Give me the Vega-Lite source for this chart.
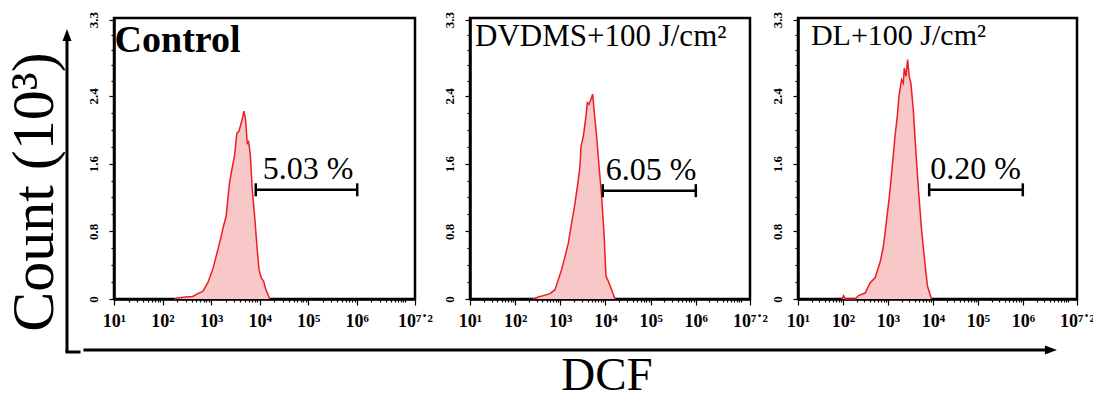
{
  "$schema": "https://vega.github.io/schema/vega-lite/v6.json",
  "background": "white",
  "padding": {"left": 4, "top": 10, "right": 5, "bottom": 0},
  "config": {
    "view": {"stroke": "black", "strokeWidth": 2.5},
    "font": "Liberation Serif",
    "axis": {"grid": false}
  },
  "datasets": {
    "control": [
      {"dcf": 174, "count": 0}, {"dcf": 221, "count": 0.016}, {"dcf": 304, "count": 0.024}, {"dcf": 418, "count": 0.03},
      {"dcf": 530, "count": 0.063}, {"dcf": 673, "count": 0.09}, {"dcf": 853, "count": 0.19}, {"dcf": 1082, "count": 0.35},
      {"dcf": 1374, "count": 0.58}, {"dcf": 1611, "count": 0.74}, {"dcf": 1799, "count": 0.86}, {"dcf": 2042, "count": 0.98},
      {"dcf": 2393, "count": 1.37}, {"dcf": 2677, "count": 1.53}, {"dcf": 3040, "count": 1.69}, {"dcf": 3398, "count": 1.96},
      {"dcf": 3735, "count": 1.98}, {"dcf": 4176, "count": 2.08}, {"dcf": 4446, "count": 2.14}, {"dcf": 4742, "count": 2.22},
      {"dcf": 5128, "count": 2.12}, {"dcf": 5558, "count": 1.84}, {"dcf": 5918, "count": 1.86}, {"dcf": 6409, "count": 1.71},
      {"dcf": 7050, "count": 1.29}, {"dcf": 7880, "count": 0.98}, {"dcf": 8810, "count": 0.62}, {"dcf": 9690, "count": 0.35},
      {"dcf": 10820, "count": 0.25}, {"dcf": 12100, "count": 0.21}, {"dcf": 13100, "count": 0.13}, {"dcf": 14400, "count": 0.07},
      {"dcf": 16100, "count": 0}
    ],
    "dvdms": [
      {"dcf": 252, "count": 0}, {"dcf": 326, "count": 0.024}, {"dcf": 421, "count": 0.04}, {"dcf": 591, "count": 0.063},
      {"dcf": 762, "count": 0.11}, {"dcf": 903, "count": 0.23}, {"dcf": 1071, "count": 0.35}, {"dcf": 1269, "count": 0.5},
      {"dcf": 1503, "count": 0.66}, {"dcf": 1782, "count": 0.9}, {"dcf": 2113, "count": 1.13}, {"dcf": 2505, "count": 1.41},
      {"dcf": 2725, "count": 1.57}, {"dcf": 2869, "count": 1.8}, {"dcf": 3230, "count": 1.92}, {"dcf": 3700, "count": 2.16},
      {"dcf": 3963, "count": 2.32}, {"dcf": 4313, "count": 2.3}, {"dcf": 4778, "count": 2.36}, {"dcf": 5200, "count": 2.42},
      {"dcf": 5662, "count": 2.2}, {"dcf": 6371, "count": 1.92}, {"dcf": 7300, "count": 1.53}, {"dcf": 8220, "count": 1.21},
      {"dcf": 9266, "count": 0.78}, {"dcf": 10260, "count": 0.27}, {"dcf": 11560, "count": 0.21}, {"dcf": 13700, "count": 0.11},
      {"dcf": 16230, "count": 0}
    ],
    "dl": [
      {"dcf": 94, "count": 0}, {"dcf": 103, "count": 0.04}, {"dcf": 112, "count": 0}, {"dcf": 186, "count": 0},
      {"dcf": 220, "count": 0.04}, {"dcf": 310, "count": 0.07}, {"dcf": 399, "count": 0.19}, {"dcf": 515, "count": 0.25},
      {"dcf": 665, "count": 0.43}, {"dcf": 789, "count": 0.62}, {"dcf": 934, "count": 0.94}, {"dcf": 1071, "count": 1.21},
      {"dcf": 1206, "count": 1.49}, {"dcf": 1429, "count": 1.92}, {"dcf": 1610, "count": 2.16}, {"dcf": 1753, "count": 2.4},
      {"dcf": 2009, "count": 2.59}, {"dcf": 2188, "count": 2.55}, {"dcf": 2301, "count": 2.73}, {"dcf": 2506, "count": 2.63},
      {"dcf": 2725, "count": 2.83}, {"dcf": 2967, "count": 2.63}, {"dcf": 3230, "count": 2.55}, {"dcf": 3639, "count": 2.24},
      {"dcf": 4100, "count": 1.8}, {"dcf": 4697, "count": 1.33}, {"dcf": 5563, "count": 0.82}, {"dcf": 6594, "count": 0.43},
      {"dcf": 7552, "count": 0.15}, {"dcf": 9268, "count": 0}
    ],
    "gates": [
      {"panel": "Control", "label": "Control", "lo": 8318, "hi": 1023000, "y": 1.29, "pct": "5.03 %"},
      {"panel": "DVDMS", "label": "DVDMS+100 J/cm²", "lo": 8710, "hi": 1000000, "y": 1.28, "pct": "6.05 %"},
      {"panel": "DL", "label": "DL+100 J/cm²", "lo": 8222, "hi": 990000, "y": 1.29, "pct": "0.20 %"}
    ]
  },
  "spacing": 0,
  "hconcat": [
    {
      "width": 69, "height": 334,
      "view": {"stroke": null},
      "data": {"values": [{}]},
      "layer": [
        {"mark": {"type": "rule", "strokeWidth": 3, "color": "black"},
         "encoding": {"x": {"datum": 0.826, "type": "quantitative", "scale": {"domain": [0, 1]}, "axis": null},
                      "y": {"datum": 0, "type": "quantitative", "scale": {"domain": [0, 1]}, "axis": null},
                      "y2": {"datum": 0.949}}},
        {"mark": {"type": "rule", "strokeWidth": 3, "color": "black", "strokeCap": "square"},
         "encoding": {"x": {"datum": 0.826, "type": "quantitative"}, "x2": {"datum": 1}, "y": {"datum": 0, "type": "quantitative"}}},
        {"mark": {"type": "point", "shape": "M0,-1L0.75,1L-0.75,1Z", "filled": true, "size": 144, "color": "black", "opacity": 1},
         "encoding": {"x": {"datum": 0.826, "type": "quantitative"}, "y": {"datum": 0.949, "type": "quantitative"}}},
        {"mark": {"type": "text", "angle": 270, "align": "center", "baseline": "alphabetic", "font": "Liberation Serif", "fontSize": 60, "color": "black"},
         "encoding": {"x": {"datum": 0.623, "type": "quantitative"}, "y": {"datum": 0.479, "type": "quantitative"}, "text": {"value": "Count (10³)"}}}
      ]
    },
    {
      "spacing": 13,
      "vconcat": [
        {
          "spacing": 7,
          "hconcat": [
            {
              "width": 301, "height": 281,
              "layer": [
                {"data": {"name": "control"},
                 "mark": {"type": "area", "fill": "#f8c8c8", "fillOpacity": 1, "line": {"stroke": "#ee1c24", "strokeWidth": 1.5}},
                 "encoding": {
                   "x": {"field": "dcf", "type": "quantitative", "scale": {"type": "log", "domain": [10, 15848932], "nice": false},
                         "axis": {"title": null, "tickCount": 500, "values": [10,20,30,40,50,60,70,80,90,100,200,300,400,500,600,700,800,900,1000,2000,3000,4000,5000,6000,7000,8000,9000,10000,20000,30000,40000,50000,60000,70000,80000,90000,100000,200000,300000,400000,500000,600000,700000,800000,900000,1000000,2000000,3000000,4000000,5000000,6000000,7000000,8000000,9000000,10000000,15848932],
                                  "labelExpr": "datum.value > 1.1e7 ? '10⁷˙²' : ((datum.value < 2e6 && abs(log(datum.value)/LN10 - round(log(datum.value)/LN10)) < 0.001) ? '10' + substring('⁰¹²³⁴⁵⁶⁷', round(log(datum.value)/LN10), round(log(datum.value)/LN10) + 1) : '')",
                                  "labelFont": "Liberation Serif", "labelFontSize": 18, "labelFontWeight": "bold", "labelColor": "black", "labelPadding": 7, "labelFlush": false, "labelOverlap": false, "labelBound": false,
                                  "tickColor": "black", "tickWidth": 1.2,
                                  "tickSize": {"condition": {"test": "datum.value > 1.1e7 || (datum.value < 2e6 && abs(log(datum.value)/LN10 - round(log(datum.value)/LN10)) < 0.001)", "value": 6}, "value": 3},
                                  "domainColor": "black", "domainWidth": 2.5}},
                   "y": {"field": "count", "type": "quantitative", "scale": {"domain": [0, 3.32], "nice": false},
                         "axis": {"title": null, "tickCount": 500, "values": [0,0.2,0.4,0.6,0.8,1,1.2,1.4,1.6,1.8,2,2.2,2.4,2.58,2.76,2.94,3.12,3.3],
                                  "labelExpr": "(datum.value == 0 || datum.value == 0.8 || datum.value == 1.6 || datum.value == 2.4 || datum.value > 3.25) ? (datum.value == 0 ? '0' : format(datum.value, '.1f')) : ''",
                                  "labelAngle": 270, "labelAlign": "center", "labelBaseline": "bottom",
                                  "labelFont": "Liberation Serif", "labelFontSize": 13, "labelFontWeight": "bold", "labelColor": "black", "labelPadding": 9, "labelOverlap": false, "labelBound": false,
                                  "tickColor": "black", "tickWidth": 1.2,
                                  "tickSize": {"condition": {"test": "datum.value == 0 || datum.value == 0.8 || datum.value == 1.6 || datum.value == 2.4 || datum.value > 3.25", "value": 5}, "value": 3},
                                  "domainColor": "black", "domainWidth": 2.5}}
                 }},
                {"data": {"name": "gates"}, "transform": [{"filter": "datum.panel == 'Control'"}],
                 "mark": {"type": "rule", "strokeWidth": 2.5, "color": "black"},
                 "encoding": {"x": {"field": "lo", "type": "quantitative"}, "x2": {"field": "hi"}, "y": {"field": "y", "type": "quantitative"}}},
                {"data": {"name": "gates"}, "transform": [{"filter": "datum.panel == 'Control'"}],
                 "mark": {"type": "tick", "orient": "vertical", "size": 13, "thickness": 2.5, "color": "black", "opacity": 1},
                 "encoding": {"x": {"field": "lo", "type": "quantitative"}, "y": {"field": "y", "type": "quantitative"}}},
                {"data": {"name": "gates"}, "transform": [{"filter": "datum.panel == 'Control'"}],
                 "mark": {"type": "tick", "orient": "vertical", "size": 13, "thickness": 2.5, "color": "black", "opacity": 1},
                 "encoding": {"x": {"field": "hi", "type": "quantitative"}, "y": {"field": "y", "type": "quantitative"}}},
                {"data": {"name": "gates"}, "transform": [{"filter": "datum.panel == 'Control'"}],
                 "mark": {"type": "text", "align": "left", "baseline": "alphabetic", "dx": 7, "dy": -11, "font": "Liberation Serif", "fontSize": 32, "color": "black"},
                 "encoding": {"x": {"field": "lo", "type": "quantitative"}, "y": {"field": "y", "type": "quantitative"}, "text": {"field": "pct"}}},
                {"data": {"name": "gates"}, "transform": [{"filter": "datum.panel == 'Control'"}],
                 "mark": {"type": "text", "align": "left", "baseline": "alphabetic", "font": "Liberation Serif", "fontSize": 38, "fontWeight": "bold", "color": "black"},
                 "encoding": {"x": {"datum": 10.3, "type": "quantitative"}, "y": {"datum": 2.92, "type": "quantitative"}, "text": {"field": "label"}}}
              ]
            },
            {
              "spacing": 0,
              "hconcat": [
                {
                  "width": 280, "height": 281,
                  "layer": [
                    {"data": {"name": "dvdms"},
                     "mark": {"type": "area", "fill": "#f8c8c8", "fillOpacity": 1, "line": {"stroke": "#ee1c24", "strokeWidth": 1.5}},
                     "encoding": {
                       "x": {"field": "dcf", "type": "quantitative", "scale": {"type": "log", "domain": [10, 15848932], "nice": false},
                             "axis": {"title": null, "tickCount": 500, "values": [10,20,30,40,50,60,70,80,90,100,200,300,400,500,600,700,800,900,1000,2000,3000,4000,5000,6000,7000,8000,9000,10000,20000,30000,40000,50000,60000,70000,80000,90000,100000,200000,300000,400000,500000,600000,700000,800000,900000,1000000,2000000,3000000,4000000,5000000,6000000,7000000,8000000,9000000,10000000,15848932],
                                      "labelExpr": "datum.value > 1.1e7 ? '10⁷˙²' : ((datum.value < 2e6 && abs(log(datum.value)/LN10 - round(log(datum.value)/LN10)) < 0.001) ? '10' + substring('⁰¹²³⁴⁵⁶⁷', round(log(datum.value)/LN10), round(log(datum.value)/LN10) + 1) : '')",
                                      "labelFont": "Liberation Serif", "labelFontSize": 18, "labelFontWeight": "bold", "labelColor": "black", "labelPadding": 7, "labelFlush": false, "labelOverlap": false, "labelBound": false,
                                      "tickColor": "black", "tickWidth": 1.2,
                                      "tickSize": {"condition": {"test": "datum.value > 1.1e7 || (datum.value < 2e6 && abs(log(datum.value)/LN10 - round(log(datum.value)/LN10)) < 0.001)", "value": 6}, "value": 3},
                                      "domainColor": "black", "domainWidth": 2.5}},
                       "y": {"field": "count", "type": "quantitative", "scale": {"domain": [0, 3.32], "nice": false},
                             "axis": {"title": null, "tickCount": 500, "values": [0,0.2,0.4,0.6,0.8,1,1.2,1.4,1.6,1.8,2,2.2,2.4,2.58,2.76,2.94,3.12,3.3],
                                      "labelExpr": "(datum.value == 0 || datum.value == 0.8 || datum.value == 1.6 || datum.value == 2.4 || datum.value > 3.25) ? (datum.value == 0 ? '0' : format(datum.value, '.1f')) : ''",
                                      "labelAngle": 270, "labelAlign": "center", "labelBaseline": "bottom",
                                      "labelFont": "Liberation Serif", "labelFontSize": 13, "labelFontWeight": "bold", "labelColor": "black", "labelPadding": 9, "labelOverlap": false, "labelBound": false,
                                      "tickColor": "black", "tickWidth": 1.2,
                                      "tickSize": {"condition": {"test": "datum.value == 0 || datum.value == 0.8 || datum.value == 1.6 || datum.value == 2.4 || datum.value > 3.25", "value": 5}, "value": 3},
                                      "domainColor": "black", "domainWidth": 2.5}}
                     }},
                    {"data": {"name": "gates"}, "transform": [{"filter": "datum.panel == 'DVDMS'"}],
                     "mark": {"type": "rule", "strokeWidth": 2.5, "color": "black"},
                     "encoding": {"x": {"field": "lo", "type": "quantitative"}, "x2": {"field": "hi"}, "y": {"field": "y", "type": "quantitative"}}},
                    {"data": {"name": "gates"}, "transform": [{"filter": "datum.panel == 'DVDMS'"}],
                     "mark": {"type": "tick", "orient": "vertical", "size": 13, "thickness": 2.5, "color": "black", "opacity": 1},
                     "encoding": {"x": {"field": "lo", "type": "quantitative"}, "y": {"field": "y", "type": "quantitative"}}},
                    {"data": {"name": "gates"}, "transform": [{"filter": "datum.panel == 'DVDMS'"}],
                     "mark": {"type": "tick", "orient": "vertical", "size": 13, "thickness": 2.5, "color": "black", "opacity": 1},
                     "encoding": {"x": {"field": "hi", "type": "quantitative"}, "y": {"field": "y", "type": "quantitative"}}},
                    {"data": {"name": "gates"}, "transform": [{"filter": "datum.panel == 'DVDMS'"}],
                     "mark": {"type": "text", "align": "left", "baseline": "alphabetic", "dx": 3, "dy": -11, "font": "Liberation Serif", "fontSize": 32, "color": "black"},
                     "encoding": {"x": {"field": "lo", "type": "quantitative"}, "y": {"field": "y", "type": "quantitative"}, "text": {"field": "pct"}}},
                    {"data": {"name": "gates"}, "transform": [{"filter": "datum.panel == 'DVDMS'"}],
                     "mark": {"type": "text", "align": "left", "baseline": "alphabetic", "font": "Liberation Serif", "fontSize": 31, "color": "black"},
                     "encoding": {"x": {"datum": 12.9, "type": "quantitative"}, "y": {"datum": 2.99, "type": "quantitative"}, "text": {"field": "label"}}}
                  ]
                },
                {
                  "width": 279, "height": 281,
                  "layer": [
                    {"data": {"name": "dl"},
                     "mark": {"type": "area", "fill": "#f8c8c8", "fillOpacity": 1, "line": {"stroke": "#ee1c24", "strokeWidth": 1.5}},
                     "encoding": {
                       "x": {"field": "dcf", "type": "quantitative", "scale": {"type": "log", "domain": [10, 15848932], "nice": false},
                             "axis": {"title": null, "tickCount": 500, "values": [10,20,30,40,50,60,70,80,90,100,200,300,400,500,600,700,800,900,1000,2000,3000,4000,5000,6000,7000,8000,9000,10000,20000,30000,40000,50000,60000,70000,80000,90000,100000,200000,300000,400000,500000,600000,700000,800000,900000,1000000,2000000,3000000,4000000,5000000,6000000,7000000,8000000,9000000,10000000,15848932],
                                      "labelExpr": "datum.value > 1.1e7 ? '10⁷˙²' : ((datum.value < 2e6 && abs(log(datum.value)/LN10 - round(log(datum.value)/LN10)) < 0.001) ? '10' + substring('⁰¹²³⁴⁵⁶⁷', round(log(datum.value)/LN10), round(log(datum.value)/LN10) + 1) : '')",
                                      "labelFont": "Liberation Serif", "labelFontSize": 18, "labelFontWeight": "bold", "labelColor": "black", "labelPadding": 7, "labelFlush": false, "labelOverlap": false, "labelBound": false,
                                      "tickColor": "black", "tickWidth": 1.2,
                                      "tickSize": {"condition": {"test": "datum.value > 1.1e7 || (datum.value < 2e6 && abs(log(datum.value)/LN10 - round(log(datum.value)/LN10)) < 0.001)", "value": 6}, "value": 3},
                                      "domainColor": "black", "domainWidth": 2.5}},
                       "y": {"field": "count", "type": "quantitative", "scale": {"domain": [0, 3.32], "nice": false},
                             "axis": {"title": null, "tickCount": 500, "values": [0,0.2,0.4,0.6,0.8,1,1.2,1.4,1.6,1.8,2,2.2,2.4,2.58,2.76,2.94,3.12,3.3],
                                      "labelExpr": "(datum.value == 0 || datum.value == 0.8 || datum.value == 1.6 || datum.value == 2.4 || datum.value > 3.25) ? (datum.value == 0 ? '0' : format(datum.value, '.1f')) : ''",
                                      "labelAngle": 270, "labelAlign": "center", "labelBaseline": "bottom",
                                      "labelFont": "Liberation Serif", "labelFontSize": 13, "labelFontWeight": "bold", "labelColor": "black", "labelPadding": 9, "labelOverlap": false, "labelBound": false,
                                      "tickColor": "black", "tickWidth": 1.2,
                                      "tickSize": {"condition": {"test": "datum.value == 0 || datum.value == 0.8 || datum.value == 1.6 || datum.value == 2.4 || datum.value > 3.25", "value": 5}, "value": 3},
                                      "domainColor": "black", "domainWidth": 2.5}}
                     }},
                    {"data": {"name": "gates"}, "transform": [{"filter": "datum.panel == 'DL'"}],
                     "mark": {"type": "rule", "strokeWidth": 2.5, "color": "black"},
                     "encoding": {"x": {"field": "lo", "type": "quantitative"}, "x2": {"field": "hi"}, "y": {"field": "y", "type": "quantitative"}}},
                    {"data": {"name": "gates"}, "transform": [{"filter": "datum.panel == 'DL'"}],
                     "mark": {"type": "tick", "orient": "vertical", "size": 13, "thickness": 2.5, "color": "black", "opacity": 1},
                     "encoding": {"x": {"field": "lo", "type": "quantitative"}, "y": {"field": "y", "type": "quantitative"}}},
                    {"data": {"name": "gates"}, "transform": [{"filter": "datum.panel == 'DL'"}],
                     "mark": {"type": "tick", "orient": "vertical", "size": 13, "thickness": 2.5, "color": "black", "opacity": 1},
                     "encoding": {"x": {"field": "hi", "type": "quantitative"}, "y": {"field": "y", "type": "quantitative"}}},
                    {"data": {"name": "gates"}, "transform": [{"filter": "datum.panel == 'DL'"}],
                     "mark": {"type": "text", "align": "left", "baseline": "alphabetic", "dx": 1, "dy": -11, "font": "Liberation Serif", "fontSize": 32, "color": "black"},
                     "encoding": {"x": {"field": "lo", "type": "quantitative"}, "y": {"field": "y", "type": "quantitative"}, "text": {"field": "pct"}}},
                    {"data": {"name": "gates"}, "transform": [{"filter": "datum.panel == 'DL'"}],
                     "mark": {"type": "text", "align": "left", "baseline": "alphabetic", "font": "Liberation Serif", "fontSize": 30, "color": "black"},
                     "encoding": {"x": {"datum": 19.4, "type": "quantitative"}, "y": {"datum": 3.0, "type": "quantitative"}, "text": {"field": "label"}}}
                  ]
                }
              ]
            }
          ]
        },
        {
          "width": 943, "height": 40,
          "view": {"stroke": null},
          "data": {"values": [{}]},
          "layer": [
            {"mark": {"type": "rule", "strokeWidth": 3, "color": "black", "strokeCap": "square"},
             "encoding": {"x": {"datum": -0.0308, "type": "quantitative", "scale": {"domain": [0, 1]}, "axis": null},
                          "x2": {"datum": 0.99},
                          "y": {"datum": 1, "type": "quantitative", "scale": {"domain": [0, 1]}, "axis": null}}},
            {"mark": {"type": "point", "shape": "M1,0L-1,-0.75L-1,0.75Z", "filled": true, "size": 144, "color": "black", "opacity": 1},
             "encoding": {"x": {"datum": 0.9936, "type": "quantitative"}, "y": {"datum": 1, "type": "quantitative"}}},
            {"mark": {"type": "text", "align": "center", "baseline": "alphabetic", "font": "Liberation Serif", "fontSize": 47, "color": "black"},
             "encoding": {"x": {"datum": 0.5228, "type": "quantitative"}, "y": {"datum": 0, "type": "quantitative"}, "text": {"value": "DCF"}}}
          ]
        }
      ]
    }
  ]
}
